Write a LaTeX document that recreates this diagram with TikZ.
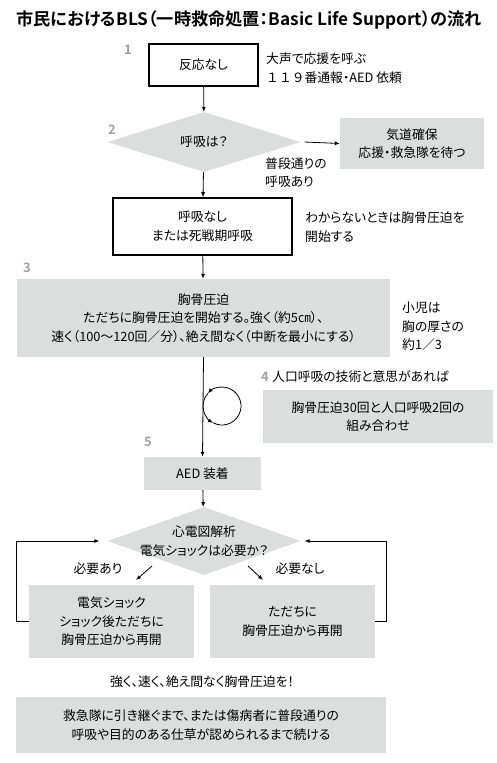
\documentclass[tikz,border=0pt]{standalone}
\usepackage{fontspec}
\setmainfont{Noto Sans CJK JP}[BoldFont={Noto Sans CJK JP Bold}, RawFeature=+palt]
\newfontfamily\widefont{Noto Sans CJK JP}
\usetikzlibrary{arrows.meta, positioning, shapes.geometric}
\definecolor{boxgray}{RGB}{220,221,221}
\definecolor{numgray}{RGB}{160,160,160}

\begin{document}
\begin{tikzpicture}[
    x=1pt, y=-1pt,
    base/.style={font=\fontsize{12.8}{18.5}\selectfont, align=center, inner sep=0pt},
    wbox/.style={base, draw, line width=1.6pt, fill=white},
    gbox/.style={base, fill=boxgray},
    dia/.style={diamond, fill=boxgray, inner sep=0pt},
    note/.style={base, align=left, anchor=west},
    num/.style={font=\fontsize{13}{13}\selectfont\bfseries, text=numgray, inner sep=0pt},
    flow/.style={-{Latex[length=5pt,width=4pt]}, line width=0.8pt},
    link/.style={line width=0.8pt},
]
\useasboundingbox (0,0) rectangle (497,763);
\node[font=\fontsize{17.2}{17}\selectfont\bfseries, inner sep=0pt] (title) at (249,20)
   {市民におけるBLS（一時救命処置：Basic Life Support）の流れ};
% step 1
\node[num] (n1) at (128,50) {1};
\node[wbox, minimum width=109pt, minimum height=42pt] (b1) at (203.5,65) {反応なし};
\node[note] (t1) at (266,68) {大声で応援を呼ぶ\\{\widefont １１９}番通報・AED 依頼};
% step 2
\node[num] (n2) at (112,130) {2};
\node[dia, minimum width=193pt, minimum height=60pt] (q1) at (204,142) {};
\node[base] (q1t) at (q1) {呼吸は？};
\node[gbox, minimum width=144pt, minimum height=51pt] (r1) at (412,143.5) {気道確保\\応援・救急隊を待つ};
\node[note] (t2) at (265,172.5) {普段通りの\\呼吸あり};
\node[wbox, minimum width=179pt, minimum height=57pt] (b2) at (202.5,226.5) {呼吸なし\\または死戦期呼吸};
\node[note] (t3) at (305,227) {わからないときは胸骨圧迫を\\開始する};
% step 3
\node[num] (n3) at (27,268) {3};
\node[gbox, minimum width=373pt, minimum height=78pt] (b3) at (203.5,318)
   {胸骨圧迫\\ただちに胸骨圧迫を開始する。強く（約5㎝）、\\速く（100〜120回／分）、絶え間なく（中断を最小にする）};
\node[note] (t4) at (402,326.5) {小児は\\胸の厚さの\\約1／3};
% step 4
\node[num] (n4) at (265,377) {4};
\node[note] (t5) at (272,377) {人口呼吸の技術と意思があれば};
\node[gbox, minimum width=230pt, minimum height=53pt] (b4) at (378,416.5) {胸骨圧迫30回と人口呼吸2回の\\組み合わせ};
% step 5
\node[num] (n5) at (148,442) {5};
\node[gbox, minimum width=117pt, minimum height=33pt] (aed) at (202.5,473.5) {AED 装着};
\node[dia, minimum width=193pt, minimum height=68pt] (q2) at (204,541) {};
\node[base] (q2t) at (q2) {心電図解析\\電気ショックは必要か？};
\node[base] (ya) at (98,569) {必要あり};
\node[base] (na) at (300,569) {必要なし};
\node[gbox, minimum width=165pt, minimum height=73pt] (bl) at (111.5,621.5) {電気ショック\\ショック後ただちに\\胸骨圧迫から再開};
\node[gbox, minimum width=165pt, minimum height=73pt] (br) at (292.5,621.5) {ただちに\\胸骨圧迫から再開};
\node[base] (emph) at (202,682) {強く、速く、絶え間なく胸骨圧迫を！};
\node[gbox, minimum width=370pt, minimum height=56pt] (bend) at (201,725)
   {救急隊に引き継ぐまで、または傷病者に普段通りの\\呼吸や目的のある仕草が認められるまで続ける};
\coordinate (loop) at (222,406);
\coordinate (ya1) at (152,566);
\coordinate (ya2) at (136,580);
\coordinate (na1) at (248,566);
\coordinate (na2) at (263,580);
% connectors
\draw[flow] (b1) -- (q1);
\draw[flow] ([xshift=4pt]q1.east) -- (r1.west);
\draw[flow] (q1) -- (b2);
\draw[flow] (b2) -- (b3);
\draw[flow] (b3.south) -- (aed.north);
% loop of compressions and breaths
\draw[flow] ([shift={(loop)}]270:19) arc[start angle=270, end angle=222, radius=19];
\draw[flow] ([shift={(loop)}]222:19) arc[start angle=222, end angle=118, radius=19];
\draw[link] ([shift={(loop)}]118:19) arc[start angle=118, end angle=-90, radius=19];
\draw[flow] (aed) -- (q2);
\draw[flow] (ya1) -- (ya2);
\draw[flow] (na1) -- (na2);
\draw[flow] (bl.west) -- ++(-12,0) |- ([xshift=-8pt]q2.west);
\draw[flow] (br.east) -- ++(11,0) |- ([xshift=4pt]q2.east);
\end{tikzpicture}
\end{document}
